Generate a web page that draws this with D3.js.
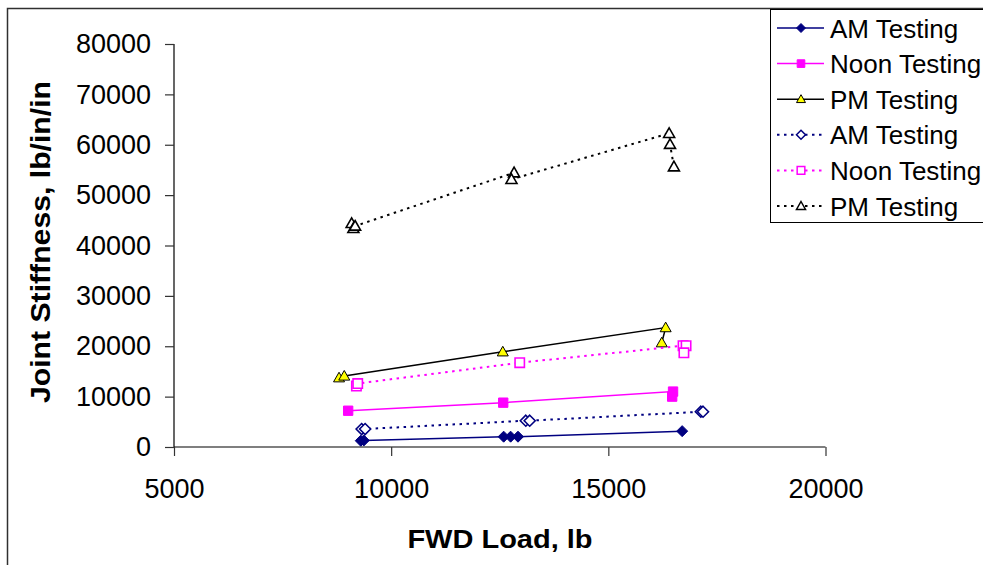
<!DOCTYPE html>
<html>
<head>
<meta charset="utf-8">
<script src="https://cdn.jsdelivr.net/npm/d3@7"></script>
<style>
  html, body { margin: 0; padding: 0; background: #fff; }
  svg { display: block; font-family: "Liberation Sans", Arial, sans-serif; }
</style>
</head>
<body>
<svg id="chart" width="983" height="565"></svg>
<script>
// ---- Data ----
const xTicks = [5000, 10000, 15000, 20000];
const yTicks = [0, 10000, 20000, 30000, 40000, 50000, 60000, 70000, 80000];
const xTitle = "FWD Load, lb";
const yTitle = "Joint Stiffness, lb/in/in";

const amSolid   = [[9300, 1250], [9370, 1300], [12590, 2050], [12750, 2050], [12920, 2050], [16700, 3150]];
const noonSolid = [[9010, 7200], [12580, 8800], [16490, 11000], [16470, 10000]];
const pmSolid   = [[8800, 13750], [8920, 14100], [12570, 18900], [16320, 23700], [16230, 20700]];
const amDotted  = [[9320, 3570], [9400, 3570], [13100, 5220], [13190, 5220], [17130, 7000], [17180, 7000]];
const noonDotted= [[9200, 12100], [9230, 12600], [12960, 16730], [16720, 20100], [16790, 20100], [16740, 18700]];
const pmDotted  = [[9090, 44400], [9130, 43400], [9170, 43870], [12830, 54450], [12770, 53140], [16400, 62270], [16420, 60090], [16510, 55640]];

const seriesNames = ["AM Testing", "Noon Testing", "PM Testing", "AM Testing", "Noon Testing", "PM Testing"];

const series = [
  { name: seriesNames[0], data: amSolid,    color: "#000080", dash: null,  marker: "diamond",  fill: "#000080" },
  { name: seriesNames[1], data: noonSolid,  color: "#FF00FF", dash: null,  marker: "square",   fill: "#FF00FF" },
  { name: seriesNames[2], data: pmSolid,    color: "#000000", dash: null,  marker: "triangle", fill: "#FFFF00" },
  { name: seriesNames[3], data: amDotted,   color: "#000080", dash: "2.5,4.5", marker: "diamond",  fill: "#FFFFFF" },
  { name: seriesNames[4], data: noonDotted, color: "#FF00FF", dash: "2.5,4.5", marker: "square",   fill: "#FFFFFF" },
  { name: seriesNames[5], data: pmDotted,   color: "#000000", dash: "2.5,4.5", marker: "triangle", fill: "#FFFFFF" }
];

// ---- Layout ----
const svg = d3.select("#chart");
const plot = { left: 174, right: 825.5, top: 44, bottom: 447 };

const x = d3.scaleLinear().domain([5000, 20000]).range([plot.left, plot.right]);
const y = d3.scaleLinear().domain([0, 80000]).range([plot.bottom, plot.top]);

// Chart outer border
svg.append("rect")
  .attr("x", 7.5).attr("y", 8.5).attr("width", 1000).attr("height", 600)
  .attr("fill", "none").attr("stroke", "#303030").attr("stroke-width", 1.5);

// Axes
const fontSize = 27;
const yAxis = svg.append("g")
  .attr("transform", `translate(${plot.left},0)`)
  .call(d3.axisLeft(y).tickValues(yTicks).tickSizeOuter(0).tickSize(9).tickPadding(14).tickFormat(d3.format("d")));
const xAxis = svg.append("g")
  .attr("transform", `translate(0,${plot.bottom})`)
  .call(d3.axisBottom(x).tickValues(xTicks).tickSizeOuter(0).tickSize(9).tickPadding(23).tickFormat(d3.format("d")));

[yAxis, xAxis].forEach(g => {
  g.select(".domain").attr("stroke", "#000").attr("stroke-width", 1.2);
  g.selectAll(".tick line").attr("stroke", "#333").attr("stroke-width", 1.2);
  g.selectAll(".tick text").attr("font-size", fontSize).attr("fill", "#000")
    .attr("font-family", "'Liberation Sans', Arial, sans-serif");
});
yAxis.select(".domain").attr("d", `M0,${plot.bottom}V${plot.top}`);
xAxis.select(".domain").attr("d", `M${plot.left},0H${plot.right}`);

// Axis titles
svg.append("text")
  .attr("x", 500).attr("y", 548)
  .attr("text-anchor", "middle")
  .attr("font-size", 25).attr("font-weight", "bold")
  .attr("transform", "translate(500,0) scale(1.16,1) translate(-500,0)")
  .text(xTitle);
svg.append("text")
  .attr("transform", "translate(50,242) rotate(-90)")
  .attr("text-anchor", "middle")
  .attr("font-size", 27).attr("font-weight", "bold")
  .attr("textLength", 322).attr("lengthAdjust", "spacingAndGlyphs")
  .text(yTitle);

// Marker path generator
function markerPath(type, s) {
  if (type === "diamond") return `M0,${-s}L${s},0L0,${s}L${-s},0Z`;
  if (type === "square") return `M${-s*0.85},${-s*0.85}H${s*0.85}V${s*0.85}H${-s*0.85}Z`;
  if (type === "triangle") return `M0,${-s}L${s},${s*0.75}L${-s},${s*0.75}Z`;
}

const line = d3.line().x(d => x(d[0])).y(d => y(d[1]));

series.forEach(s => {
  const g = svg.append("g");
  g.append("path")
    .attr("d", line(s.data))
    .attr("fill", "none")
    .attr("stroke", s.color)
    .attr("stroke-width", s.dash ? 2 : 1.5)
    .attr("stroke-dasharray", s.dash);
  const mStroke = s.marker === "triangle" ? "#000" : s.color;
  g.selectAll("path.m").data(s.data).enter().append("path")
    .attr("class", "m")
    .attr("transform", d => `translate(${x(d[0])},${y(d[1])})`)
    .attr("d", markerPath(s.marker, 5.5))
    .attr("fill", s.fill)
    .attr("stroke", mStroke)
    .attr("stroke-width", s.fill === "#FFFFFF" ? 1.6 : 1);
});

// Legend
const legend = svg.append("g");
legend.append("rect")
  .attr("x", 770.5).attr("y", 9.5).attr("width", 300).attr("height", 213)
  .attr("fill", "#fff").attr("stroke", "#000").attr("stroke-width", 1);
const rowY = d3.scaleLinear().domain([0, 5]).range([28, 206]);
series.forEach((s, i) => {
  const cy = rowY(i);
  legend.append("line")
    .attr("x1", 777).attr("x2", 824).attr("y1", cy).attr("y2", cy)
    .attr("stroke", s.color).attr("stroke-width", s.dash ? 2 : 1.5)
    .attr("stroke-dasharray", s.dash);
  legend.append("path")
    .attr("transform", `translate(801,${cy})`)
    .attr("d", markerPath(s.marker, 4.5))
    .attr("fill", s.fill)
    .attr("stroke", s.marker === "triangle" ? "#000" : s.color)
    .attr("stroke-width", s.fill === "#FFFFFF" ? 1.5 : 1);
  legend.append("text")
    .attr("x", 830).attr("y", cy + 9.5)
    .attr("font-size", 26)
    .text(s.name);
});
</script>
</body>
</html>
